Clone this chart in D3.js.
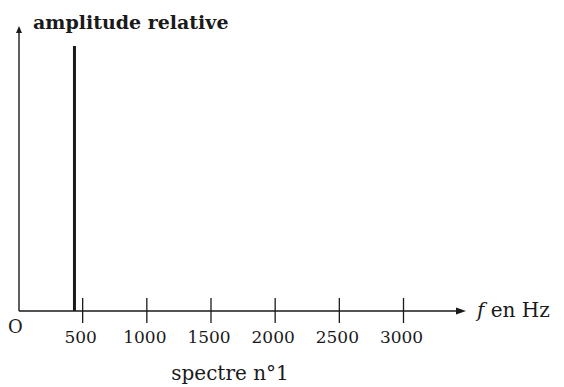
<!DOCTYPE html>
<html><head><meta charset="utf-8">
<script src="https://cdn.jsdelivr.net/npm/d3@7"></script>
<style>html,body{margin:0;padding:0;background:#fff;}svg{display:block;}</style>
</head><body>
<script>
const frequencies = [440];
const amplitudes = [1];
const tickValues = [500, 1000, 1500, 2000, 2500, 3000];
const xDomain = [0, 3000];
const yDomain = [0, 1];

const W = 564, H = 387;
const svg = d3.select("body").append("svg").attr("width", W).attr("height", H);
const ink = "#1a1a1a";
const font = "DejaVu Serif, Liberation Serif, serif";

const x = d3.scaleLinear().domain(xDomain).range([18, 403]);
const y = d3.scaleLinear().domain(yDomain).range([311, 46]);
const x0 = 19, y0 = 311;

// axes lines
svg.append("line").attr("x1", x0).attr("x2", 458).attr("y1", y0).attr("y2", y0)
  .attr("stroke", ink).attr("stroke-width", 1.4);
svg.append("path").attr("d", `M466,${y0} L456,${y0-3.5} L456,${y0+3.5} Z`).attr("fill", ink);
svg.append("line").attr("x1", x0).attr("x2", x0).attr("y1", y0).attr("y2", 32)
  .attr("stroke", ink).attr("stroke-width", 1.4);
svg.append("path").attr("d", `M${x0},26 L${x0-3},33 L${x0+3},33 Z`).attr("fill", ink);

// x axis ticks via d3 axis
const axis = d3.axisBottom(x).tickValues(tickValues).tickSize(0).tickPadding(0).tickFormat(d3.format("d"));
const g = svg.append("g").attr("transform", `translate(0,${y0})`).call(axis);
g.select(".domain").remove();
g.selectAll(".tick line").attr("y1", -13).attr("y2", 12).attr("stroke", ink).attr("stroke-width", 1.3);
g.selectAll(".tick text").attr("y", 32).attr("dx", -2).attr("dy", 0)
  .attr("fill", ink).style("font-family", font).style("font-size", "17px");

// spectrum line(s)
svg.selectAll("line.spike").data(frequencies).join("line").attr("class", "spike")
  .attr("x1", d => x(d)).attr("x2", d => x(d))
  .attr("y1", (d, i) => y(amplitudes[i])).attr("y2", y(0))
  .attr("stroke", ink).attr("stroke-width", 3);

// labels
svg.append("text").attr("x", 8).attr("y", 333).text("O")
  .attr("fill", ink).style("font-family", font).style("font-size", "18px");
svg.append("text").attr("x", 33).attr("y", 29).text("amplitude relative")
  .attr("fill", ink).style("font-family", font).style("font-size", "19px").style("font-weight", "bold");
const fl = svg.append("text").attr("x", 477).attr("y", 317)
  .attr("fill", ink).style("font-family", font).style("font-size", "20px");
fl.append("tspan").text("f").style("font-style", "italic");
fl.append("tspan").text(" en Hz");
svg.append("text").attr("x", 230).attr("y", 380).attr("text-anchor", "middle").text("spectre n°1")
  .attr("fill", ink).style("font-family", font).style("font-size", "20px");
</script>
</body></html>
